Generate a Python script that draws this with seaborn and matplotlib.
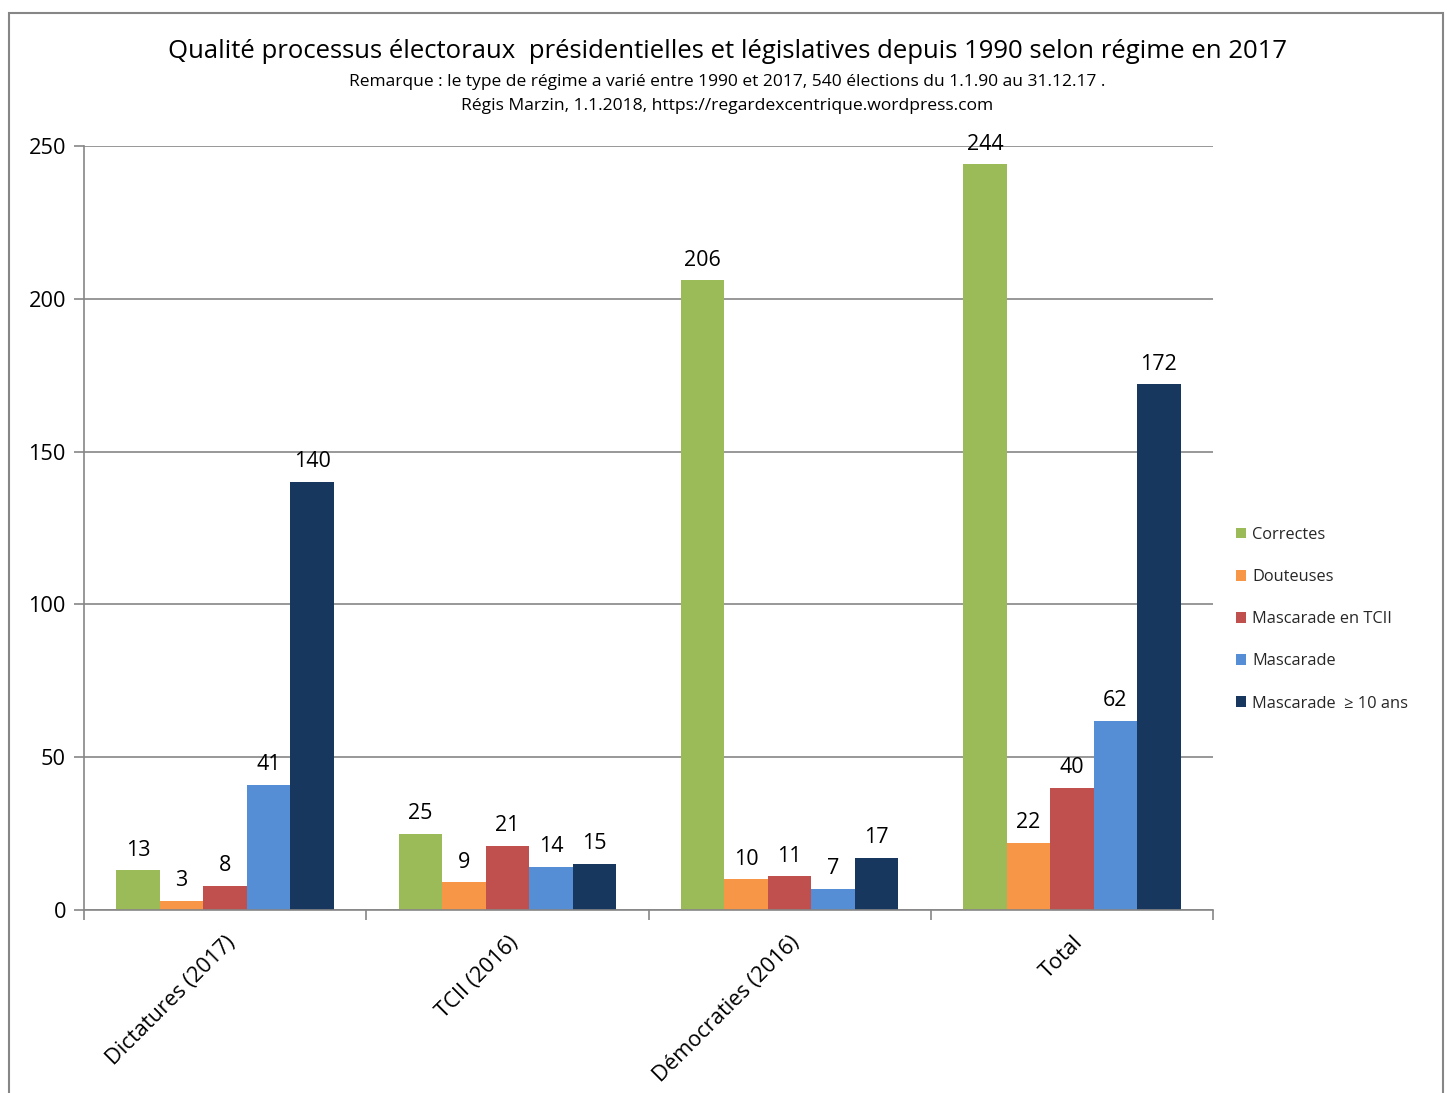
import matplotlib
matplotlib.use("Agg")
import matplotlib.pyplot as plt
import seaborn as sns
import pandas as pd
from matplotlib.patches import Rectangle, Patch

categories = ["Dictatures (2017)", "TCII (2016)", "Démocraties (2016)", "Total"]
series = ["Correctes", "Douteuses", "Mascarade en TCII", "Mascarade", "Mascarade  ≥ 10 ans"]
correctes = [13, 25, 206, 244]
douteuses = [3, 9, 10, 22]
mascarade_tcii = [8, 21, 11, 40]
mascarade = [41, 14, 7, 62]
mascarade_10 = [140, 15, 17, 172]
colors = ["#9BBB59", "#F79646", "#C0504D", "#558ED5", "#17375E"]

values = [correctes, douteuses, mascarade_tcii, mascarade, mascarade_10]
rows = []
for s, vals in zip(series, values):
    for c, v in zip(categories, vals):
        rows.append({"cat": c, "serie": s, "val": v})
df = pd.DataFrame(rows)

sns.set_theme(style="white")
plt.rcParams["font.family"] = ["Open Sans", "DejaVu Sans"]

fig = plt.figure(figsize=(14.5, 10.93), dpi=100)
ax = fig.add_axes([84/1450, 1-910/1093, (1213-84)/1450, (910-146)/1093])

sns.barplot(data=df, x="cat", y="val", hue="serie", palette=colors, ax=ax,
            width=0.77, saturation=1, legend=False, errorbar=None, linewidth=0)

for cont in ax.containers:
    ax.bar_label(cont, padding=7, fontsize=15.5, color="#000000")

ax.set_ylim(0, 250)
ax.set_xlim(-0.5, 3.5)
ax.set_yticks([0, 50, 100, 150, 200, 250])
ax.yaxis.grid(True, color="#868686", linewidth=1.2)
ax.set_axisbelow(True)
ax.set_xlabel("")
ax.set_ylabel("")
for sp in ["top", "right"]:
    ax.spines[sp].set_visible(False)
for sp in ["left", "bottom"]:
    ax.spines[sp].set_color("#868686")
    ax.spines[sp].set_linewidth(1.2)

ax.tick_params(axis="y", left=True, length=7, width=1.2, color="#868686",
               labelsize=15.7, pad=6, labelcolor="#000000")
ax.set_xticks([0, 1, 2, 3])
ax.set_xticklabels(categories, rotation=45, ha="right", rotation_mode="anchor",
                   fontsize=15.7, color="#000000")
ax.tick_params(axis="x", bottom=False, pad=10)
# group boundary ticks
ax.set_xticks([-0.5, 0.5, 1.5, 2.5, 3.5], minor=True)
ax.tick_params(axis="x", which="minor", bottom=True, length=7, width=1.2, color="#868686")

handles = [Patch(facecolor=c, edgecolor="none") for c in colors]
fig.legend(handles, series, loc="upper left", bbox_to_anchor=(1221/1450, 1-512/1093),
           frameon=False, fontsize=11.8, handlelength=0.65, handleheight=0.65,
           handletextpad=0.35, labelspacing=1.6)

fig.text(727/1450, 1-52/1093, "Qualité processus électoraux  présidentielles et législatives depuis 1990 selon régime en 2017",
         ha="center", va="center", fontsize=18.5, color="#000000")
fig.text(727/1450, 1-82/1093, "Remarque : le type de régime a varié entre 1990 et 2017, 540 élections du 1.1.90 au 31.12.17 .",
         ha="center", va="center", fontsize=12.5, color="#000000")
fig.text(727/1450, 1-106/1093, "Régis Marzin, 1.1.2018, https://regardexcentrique.wordpress.com",
         ha="center", va="center", fontsize=12.6, color="#000000")

fig.patches.append(Rectangle((9/1450, -0.05), (1443-9)/1450, 1-13/1093+0.05,
                             transform=fig.transFigure, fill=False,
                             edgecolor="#868686", linewidth=1.5))

fig.savefig("out.png", dpi=100)
